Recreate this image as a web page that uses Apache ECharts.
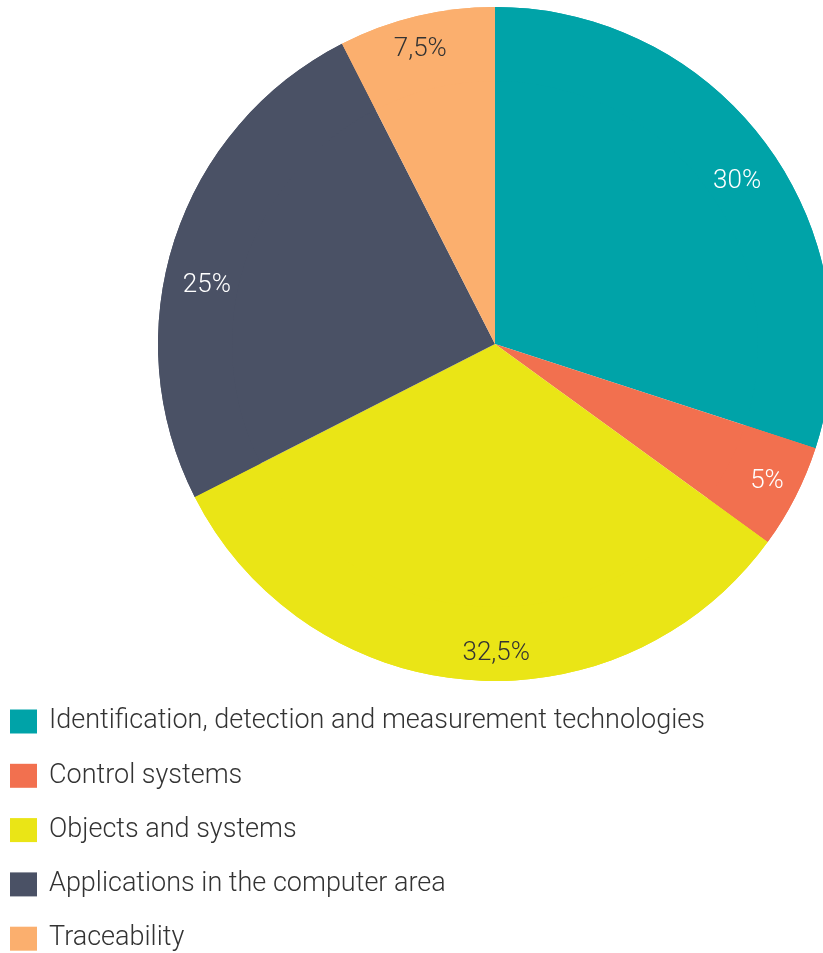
<!DOCTYPE html>
<html><head><meta charset="utf-8">
<script src="https://cdn.jsdelivr.net/npm/echarts@6/dist/echarts.min.js"></script>
<style>html,body{margin:0;padding:0;background:#fff}#c{width:823px;height:953px}</style>
</head><body><div id="c"></div>
<script>
const categories = ["Identification, detection and measurement technologies","Control systems","Objects and systems","Applications in the computer area","Traceability"];
const values = [30, 5, 32.5, 25, 7.5];
const valueLabels = ["30%","5%","32,5%","25%","7,5%"];
const colors = ["#00A3A8","#F2704F","#EAE516","#4A5165","#FBAF6E"];
const labelColors = ["#ffffff","#ffffff","#333333","#ffffff","#333333"];
// label nudges (style only)
const labelNudge = [[-3,16],[2,0],[25,7],[0,35],[-4,0]];

const chart = echarts.init(document.getElementById('c'));
const data = categories.map((n,i)=>({name:n,value:values[i],itemStyle:{color:colors[i]},
  label:{color:labelColors[i]}}));
chart.setOption({
  animation:false,
  legend:{orient:'vertical',left:10,top:708,height:260,padding:0,itemWidth:27,itemHeight:24,itemGap:27.3,
    icon:'rect',data:categories,
    textStyle:{fontFamily:'Roboto',fontWeight:300,fontSize:27,color:'#333',lineHeight:24,padding:[0,0,0,7]}},
  series:[
    {type:'pie',name:'base',center:[495,344],radius:[0,337],startAngle:90,clockwise:true,
     silent:true,label:{show:false},labelLine:{show:false},data:data},
    {type:'pie',name:'labels',center:[495,344],radius:[263,337],startAngle:90,clockwise:true,
     silent:true,labelLine:{show:false},
     label:{show:true,position:'inside',fontFamily:'Roboto',fontWeight:300,fontSize:26,
       formatter:p=>valueLabels[p.dataIndex]},
     labelLayout:p=>({dx:labelNudge[p.dataIndex][0],dy:labelNudge[p.dataIndex][1]}),
     data:data}
  ]
});
</script></body></html>
